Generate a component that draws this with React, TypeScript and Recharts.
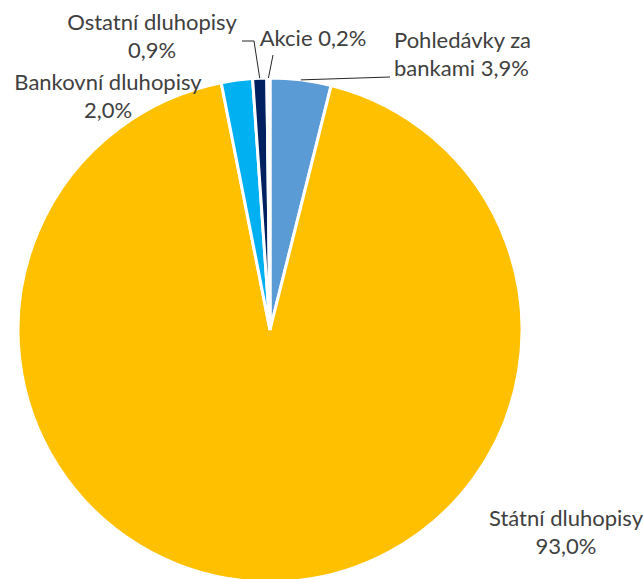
import React from 'react';
import { PieChart, Pie, Cell } from 'recharts';

const names = ['Pohledávky za bankami', 'Státní dluhopisy', 'Bankovní dluhopisy', 'Ostatní dluhopisy', 'Akcie'];
const values = [3.9, 93.0, 2.0, 0.9, 0.2];
const labelLines = [
  ['Pohledávky za', 'bankami 3,9%'],
  ['Státní dluhopisy', '93,0%'],
  ['Bankovní dluhopisy', '2,0%'],
  ['Ostatní dluhopisy', '0,9%'],
  ['Akcie 0,2%'],
];

const colors = ['#5B9BD5', '#FFC000', '#00B0F0', '#002060', '#F2F2F2'];

// label placement relative to pie centre: text x, first line y, anchor, leader polyline
const layout = [
  { x: 124, y: -291, anchor: 'start', leader: [[0, 0], [120, -253]] },
  { x: 296, y: 187, anchor: 'middle', leader: null },
  { x: -162, y: -249, anchor: 'middle', leader: null },
  { x: -118, y: -309, anchor: 'middle', leader: [[0, 0], [-16, -289], [-28, -289]] },
  { x: 43, y: -293, anchor: 'middle', leader: [[0, 0], [3, -275]] },
];

const chartData = names.map((name, i) => ({ name, value: values[i] }));

const RAD = Math.PI / 180;

const renderLabel = (props: any) => {
  const { cx, cy, midAngle, outerRadius, index } = props;
  const l = layout[index];
  const lines = labelLines[index];
  let leader = null;
  if (l.leader) {
    const ex = cx + outerRadius * Math.cos(-midAngle * RAD);
    const ey = cy + outerRadius * Math.sin(-midAngle * RAD);
    const pts = [[ex, ey], ...l.leader.slice(1).map(([dx, dy]) => [cx + dx, cy + dy])];
    leader = (
      <polyline
        points={pts.map(p => p.join(',')).join(' ')}
        fill="none"
        stroke="#262626"
        strokeWidth={1}
      />
    );
  }
  return (
    <g key={`lbl-${index}`}>
      {leader}
      <text
        x={cx + l.x}
        y={cy + l.y}
        textAnchor={l.anchor}
        fill="#404040"
        fontSize={22}
        fontFamily="Lato, 'Open Sans', sans-serif"
        dominantBaseline="central"
      >
        {lines.map((t, i) => (
          <tspan key={i} x={cx + l.x} dy={i === 0 ? 0 : 28}>{t}</tspan>
        ))}
      </text>
    </g>
  );
};

const App: React.FC = () => {
  return (
    <div style={{ position: 'absolute', left: 0, top: 0, width: 643, height: 579, background: '#ffffff', overflow: 'hidden' }}>
      <PieChart width={643} height={579}>
        <Pie
          data={chartData}
          dataKey="value"
          nameKey="name"
          cx={265}
          cy={325}
          outerRadius={252}
          startAngle={90}
          endAngle={-270}
          stroke="#ffffff"
          strokeWidth={3}
          label={renderLabel}
          labelLine={false}
          isAnimationActive={false}
        >
          {chartData.map((d, i) => (
            <Cell key={d.name} fill={colors[i]} />
          ))}
        </Pie>
      </PieChart>
    </div>
  );
};

export default App;
